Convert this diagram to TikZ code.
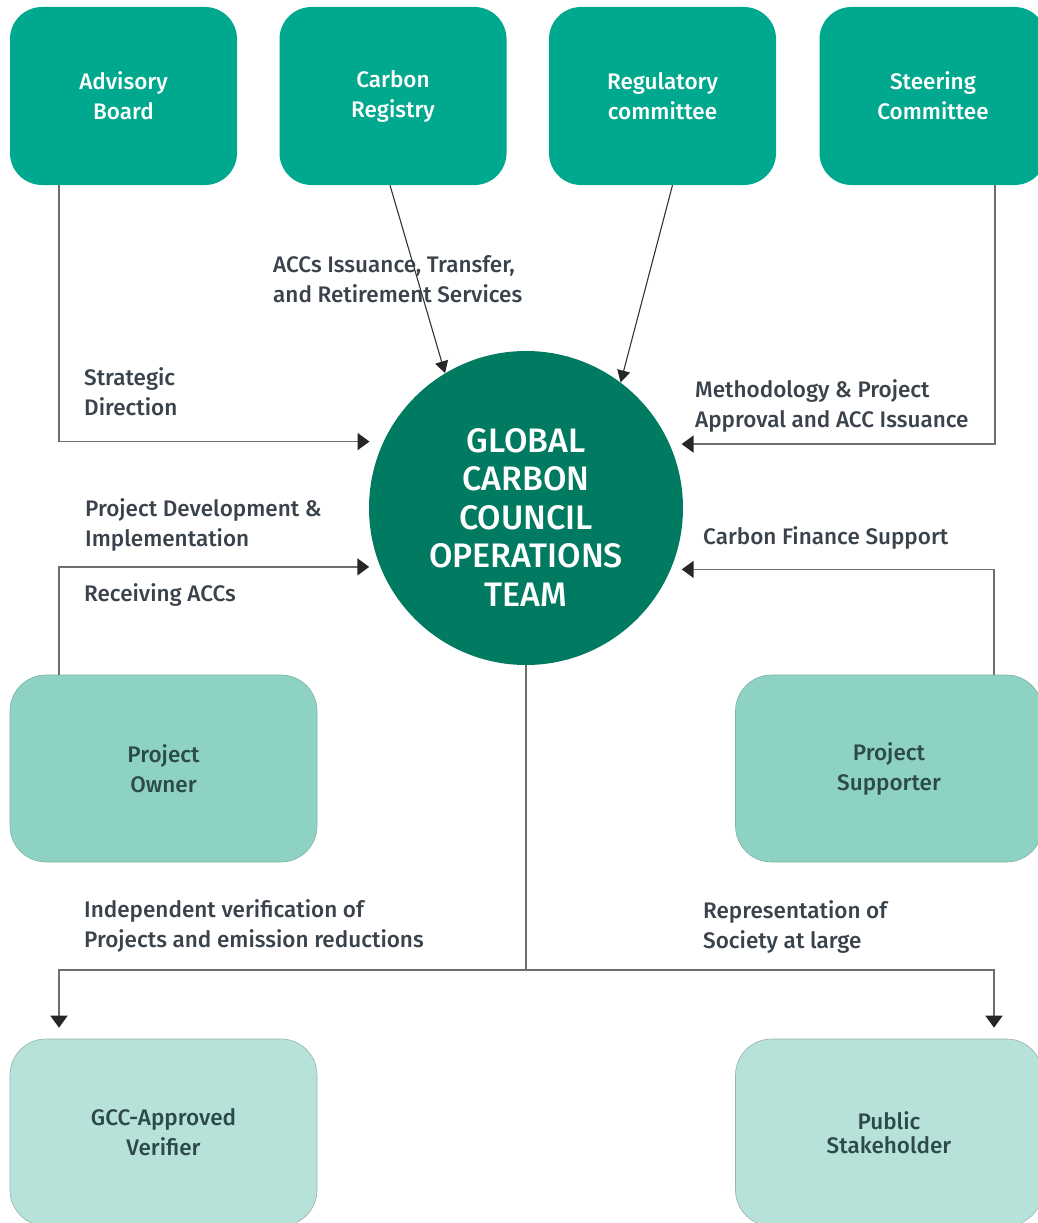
\documentclass[tikz,border=0pt]{standalone}
\usepackage{fontspec}
\setmainfont{Fira Sans}[UprightFont=* Medium, BoldFont=* SemiBold]
\usetikzlibrary{arrows.meta}

\definecolor{topgreen}{RGB}{0,168,142}
\definecolor{hubgreen}{RGB}{0,122,96}
\definecolor{midgreen}{RGB}{142,210,196}
\definecolor{lowgreen}{RGB}{183,226,217}
\definecolor{labelgray}{RGB}{58,66,76}
\definecolor{boxtext}{RGB}{44,74,74}
\definecolor{linegray}{RGB}{110,110,110}

\begin{document}
\begin{tikzpicture}[x=1pt, y=-1pt, font=\fontsize{22.5}{30}\selectfont,
    topbox/.style={fill=topgreen, text=white, rounded corners=32pt,
        minimum width=227pt, minimum height=178pt, align=center, inner sep=0pt},
    midbox/.style={fill=midgreen, draw=midgreen!80!black!90, line width=0.6pt,
        text=boxtext, rounded corners=36pt,
        minimum width=307pt, minimum height=187pt, align=center, inner sep=0pt},
    lowbox/.style={midbox, fill=lowgreen, draw=lowgreen!75!black!90},
    hub/.style={circle, fill=hubgreen, minimum size=314pt, inner sep=0pt},
    hubtext/.style={text=white, inner sep=0pt, align=center,
        font=\fontsize{34}{38.5}\selectfont},
    lbl/.style={anchor=west, align=left, text=labelgray, inner sep=0pt},
    feed/.style={draw=linegray, line width=1.6pt,
        -{Triangle[length=12pt, width=17pt, color=black!85]}},
    diag/.style={draw=black!80, line width=1.1pt,
        -{Triangle[length=12pt, width=13pt, color=black!85]}}]
    \useasboundingbox (0,0) rectangle (1038,1223);

    % top row
    \node [topbox] (advisory) at (123.5,96) {Advisory\\Board};
    \node [topbox] (registry) at (393,96) {Carbon\\Registry};
    \node [topbox] (regulatory) at (662.5,96) {Regulatory\\committee};
    \node [topbox] (steering) at (933,96) {Steering\\Committee};

    % centre
    \node [hub] (gcc) at (526,508) {};
    \node [hubtext] (gccText) at ([yshift=-9pt]gcc.center) {GLOBAL\\CARBON\\COUNCIL\\OPERATIONS\\TEAM};

    % middle and bottom rows
    \node [midbox] (owner) at (163.5,768.5) {Project\\Owner};
    \node [midbox] (supporter) at (889,768.5) {Project\\Supporter};
    \node [lowbox] (verifier) at (163.5,1132.5) {GCC-Approved\\Verifier};
    \node [lowbox] (stakeholder) at (889,1132.5) {Public\\[-6pt]Stakeholder};

    % connectors
    \draw [feed, shorten >=14pt] ([xshift=-64.5pt]advisory.south) |- (gcc.155);
    \draw [feed, shorten >=11pt] ([xshift=-104.5pt]owner.north) |- (gcc.202);
    \draw [feed, shorten >=12pt] ([xshift=62pt]steering.south) |- (gcc.24);
    \draw [feed, shorten >=11pt] ([xshift=105pt]supporter.north) |- (gcc.337);
    \draw [diag] ([xshift=-3pt]registry.south) -- (gcc.121);
    \draw [diag] ([xshift=10pt]regulatory.south) -- (gcc.53);

    \draw [feed, -] (gcc.south) -- ++(0,305) coordinate (split);
    \draw [feed, shorten >=11pt] (split) -| ([xshift=-104.5pt]verifier.north);
    \draw [feed, shorten >=11pt] (split) -| ([xshift=105pt]stakeholder.north);

    % labels
    \node [lbl] (lblStrategic) at (84,392) {Strategic\\Direction};
    \node [lbl] (lblServices) at (273,279) {ACCs Issuance, Transfer,\\and Retirement Services};
    \node [lbl] (lblMethod) at (695,406) {Methodology \& Project\\Approval and ACC Issuance};
    \node [lbl] (lblDevelop) at (85,525) {Project Development \&\\Implementation};
    \node [lbl] (lblReceive) at (84,595) {Receiving ACCs};
    \node [lbl] (lblFinance) at (703,538) {Carbon Finance Support};
    \node [lbl] (lblVerify) at (84,926) {Independent verification of\\Projects and emission reductions};
    \node [lbl] (lblSociety) at (703,927) {Representation of\\Society at large};
\end{tikzpicture}
\end{document}
